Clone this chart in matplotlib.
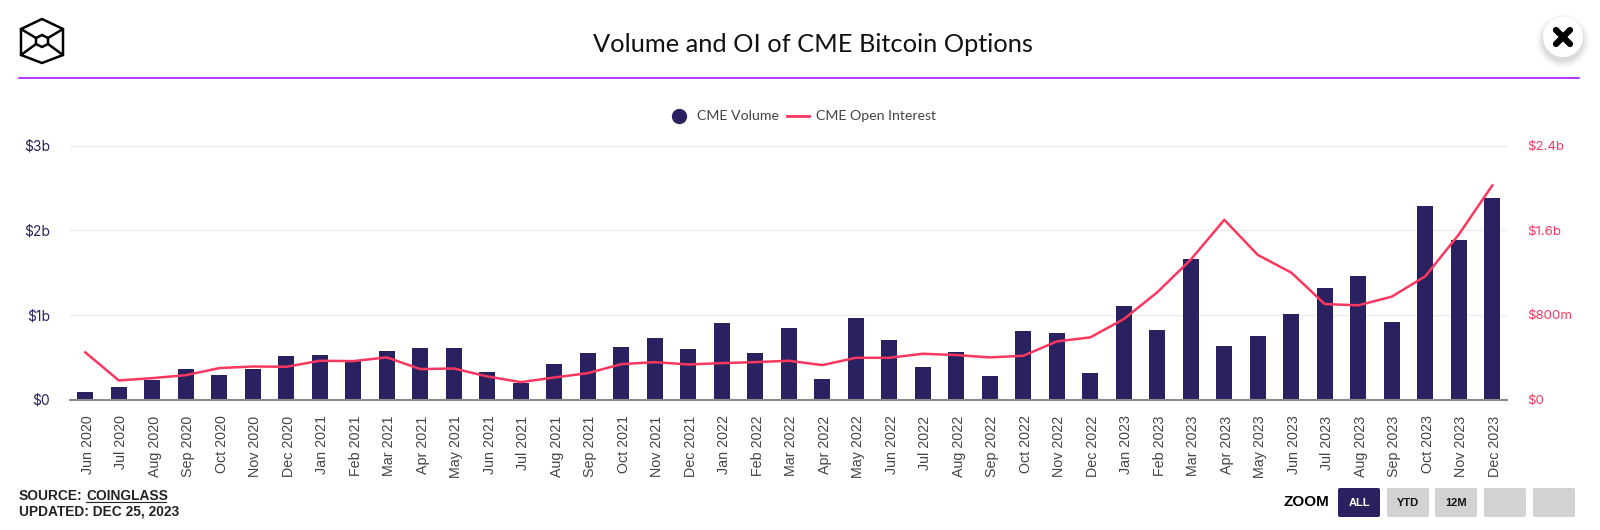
#!/usr/bin/env python3
import matplotlib
matplotlib.use("Agg")
import matplotlib.pyplot as plt
from matplotlib.lines import Line2D
from matplotlib.patches import Circle, FancyBboxPatch, Polygon
from matplotlib.transforms import ScaledTranslation

months = [
    "Jun 2020", "Jul 2020", "Aug 2020", "Sep 2020", "Oct 2020", "Nov 2020", "Dec 2020",
    "Jan 2021", "Feb 2021", "Mar 2021", "Apr 2021", "May 2021", "Jun 2021", "Jul 2021",
    "Aug 2021", "Sep 2021", "Oct 2021", "Nov 2021", "Dec 2021", "Jan 2022", "Feb 2022",
    "Mar 2022", "Apr 2022", "May 2022", "Jun 2022", "Jul 2022", "Aug 2022", "Sep 2022",
    "Oct 2022", "Nov 2022", "Dec 2022", "Jan 2023", "Feb 2023", "Mar 2023", "Apr 2023",
    "May 2023", "Jun 2023", "Jul 2023", "Aug 2023", "Sep 2023", "Oct 2023", "Nov 2023",
    "Dec 2023",
]

# billions of USD
volume = [
    0.087, 0.15, 0.233, 0.355, 0.292, 0.355, 0.509,
    0.529, 0.458, 0.576, 0.604, 0.604, 0.323, 0.20,
    0.414, 0.544, 0.623, 0.73, 0.592, 0.90, 0.544,
    0.84, 0.245, 0.962, 0.698, 0.387, 0.56, 0.28,
    0.805, 0.79, 0.308, 1.10, 0.82, 1.665, 0.635,
    0.746, 1.01, 1.32, 1.46, 0.92, 2.284, 1.88,
    2.375,
]
open_interest = [
    0.445, 0.18, 0.202, 0.23, 0.297, 0.312, 0.309,
    0.366, 0.363, 0.398, 0.287, 0.293, 0.218, 0.164,
    0.208, 0.249, 0.334, 0.353, 0.331, 0.344, 0.353,
    0.366, 0.325, 0.394, 0.394, 0.432, 0.42, 0.398,
    0.413, 0.549, 0.587, 0.76, 1.013, 1.322, 1.698,
    1.366, 1.199, 0.902, 0.89, 0.972, 1.164, 1.559,
    2.023,
]

left_ticks = [0, 1, 2, 3]
left_labels = ["$0", "$1b", "$2b", "$3b"]
right_ticks = [0, 0.8, 1.6, 2.4]
right_labels = ["$0", "$800m", "$1.6b", "$2.4b"]

NAVY = "#2a2160"
PINK = "#f9375f"
W, H = 1600, 530

fig = plt.figure(figsize=(16, 5.3), dpi=100, facecolor="white")
ax = fig.add_axes([70 / W, 1 - 399.5 / H, 1437 / W, 254 / H])
x = list(range(len(months)))

ax.bar(x, volume, width=0.47, color=NAVY, zorder=2)
ax.set_xlim(-0.457, 42.44)
ax.set_ylim(0, 3)
ax.set_yticks(left_ticks)
ax.set_yticklabels(left_labels, fontname="Inter", fontsize=10, color=NAVY)
ax.set_xticks(x)
ax.set_xticklabels(months, rotation=90, fontname="Liberation Sans", fontsize=10.3, color="#444444")
ax.tick_params(axis="y", length=0, pad=14.4)
ax.tick_params(axis="x", length=0, pad=11.5)
# rotated labels sit a little right of the bar centres in the original
shift = ScaledTranslation(2.5 / 100, 0, fig.dpi_scale_trans)
for lab in ax.get_xticklabels():
    lab.set_transform(lab.get_transform() + shift)
ax.grid(axis="y", color="#ededed", lw=1)
ax.set_axisbelow(True)
for side in ["top", "left", "right"]:
    ax.spines[side].set_visible(False)
ax.spines["bottom"].set_color("#8c8c8c")
ax.spines["bottom"].set_linewidth(1.5)

ax2 = ax.twinx()
ax2.plot(x, open_interest, color=PINK, lw=1.8, zorder=3)
ax2.set_ylim(0, 2.4)
ax2.set_yticks(right_ticks)
ax2.set_yticklabels(right_labels, fontname="Inter", fontsize=9.6, color=PINK)
ax2.tick_params(axis="y", length=0, pad=14.4)
for side in ["top", "left", "right", "bottom"]:
    ax2.spines[side].set_visible(False)

handles = [
    Line2D([], [], marker="o", ls="none", ms=10, color=NAVY),
    Line2D([], [], color=PINK, lw=2),
]
fig.legend(handles, ["CME Volume", "CME Open Interest"], loc="center",
           bbox_to_anchor=(802 / W, 1 - 116.5 / H), ncol=2, frameon=False,
           prop={"family": "Lato", "size": 10.2}, labelcolor="#444444",
           handlelength=1.6, handletextpad=0.5, columnspacing=0.5)

# page furniture drawn in pixel coordinates
ov = fig.add_axes([0, 0, 1, 1], zorder=5)
ov.set_xlim(0, W)
ov.set_ylim(H, 0)
ov.axis("off")
ov.patch.set_alpha(0)

ov.text(813, 45, "Volume and OI of CME Bitcoin Options", ha="center", va="center",
        fontname="Lato", fontsize=18.3, color="#111111")
ov.plot([19, 1579], [78, 78], color="#a100ff", lw=1.1)

# logo
logo = dict(color="black", lw=1.8, solid_capstyle="round")
ov.add_patch(Polygon([(42, 19), (63, 29), (63, 55), (42, 63), (21, 55), (21, 29)],
                     closed=True, fill=False, ec="black", lw=1.8))
ov.add_patch(Polygon([(42, 35), (48, 38), (48, 44), (42, 47), (36, 44), (36, 38)],
                     closed=True, fill=False, ec="black", lw=1.8))
for a, b in [((21, 29), (36, 38)), ((63, 29), (48, 38)), ((21, 55), (36, 44)), ((63, 55), (48, 44))]:
    ov.plot([a[0], b[0]], [a[1], b[1]], **logo)

# close button with soft shadow
for r, alpha in [(27, 0.02), (25, 0.03), (23, 0.04), (21, 0.05)]:
    ov.add_patch(Circle((1563, 41), r, fc="black", ec="none", alpha=alpha))
ov.add_patch(Circle((1563, 37), 20, fc="white", ec="none"))
ov.plot([1556, 1570], [30, 44], color="black", lw=4.5, solid_capstyle="round")
ov.plot([1556, 1570], [44, 30], color="black", lw=4.5, solid_capstyle="round")

# source lines
src = dict(fontname="Liberation Sans", fontsize=9.9, fontweight="bold", color="#222222", va="center")
ov.text(19, 495.5, "SOURCE:", **src)
ov.text(86, 495.5, "COINGLASS", **src)
ov.plot([86, 166], [501.5, 501.5], color="#222222", lw=0.8)
ov.text(19, 511.5, "UPDATED: DEC 25, 2023", **src)

# zoom buttons
ov.text(1284, 502.5, "ZOOM", fontname="Liberation Sans", fontsize=11, fontweight="bold",
        color="black", va="center")
buttons = [(1338, "ALL"), (1387, "YTD"), (1435, "12M"), (1484, ""), (1533, "")]
for bx, label in buttons:
    active = label == "ALL"
    ov.add_patch(FancyBboxPatch((bx + 2, 490), 38, 25, boxstyle="round,pad=2",
                                fc=NAVY if active else "#d2d2d2", ec="none"))
    ov.text(bx + 21, 503.5, label, ha="center", va="center", fontname="Liberation Sans",
            fontsize=8, fontweight="bold", color="white" if active else "#111111")

fig.savefig("out.png", dpi=100)
